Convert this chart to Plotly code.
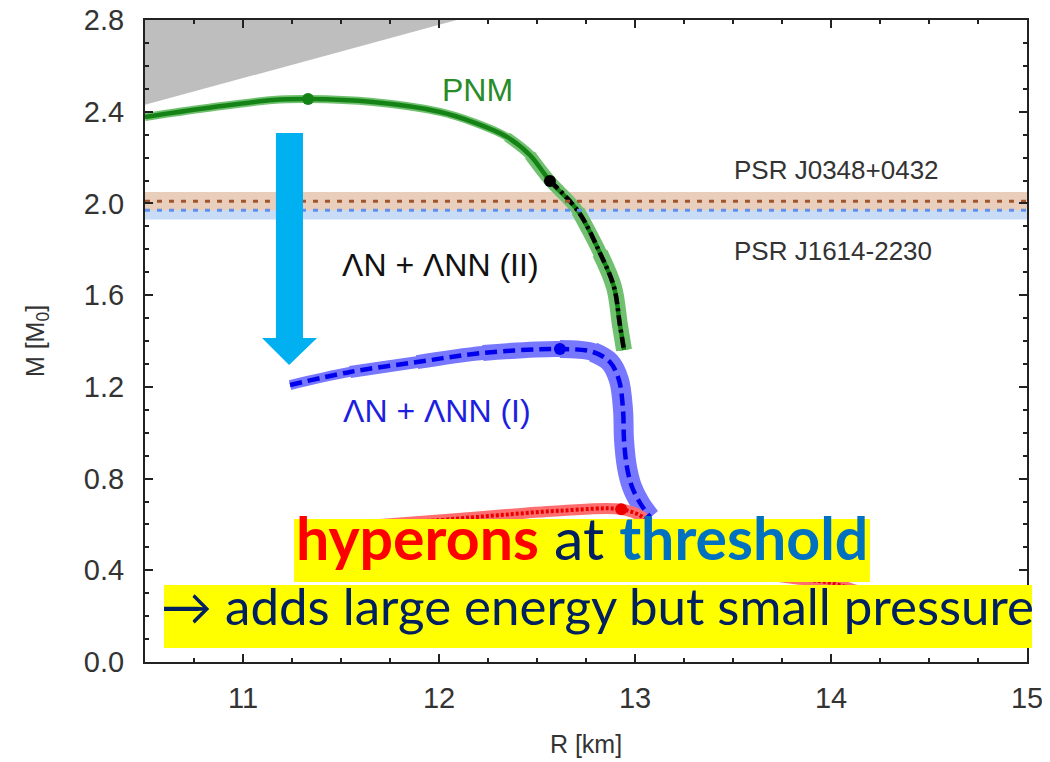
import plotly.graph_objects as go

# ---------------- data ----------------
pnm_R = [10.5, 10.816, 11.153, 11.332, 11.663, 12.005, 12.173, 12.347, 12.464, 12.566,
         12.709, 12.821, 12.893, 12.923, 12.944]
pnm_M = [2.377, 2.416, 2.451, 2.455, 2.442, 2.399, 2.355, 2.290, 2.211, 2.098,
         1.967, 1.784, 1.635, 1.470, 1.361]

lam2_R = [12.566, 12.709, 12.821, 12.893, 12.923, 12.944]
lam2_M = [2.098, 1.967, 1.784, 1.635, 1.470, 1.361]

lam1_R = [11.240, 11.546, 11.888, 12.224, 12.617, 12.786, 12.872, 12.918, 12.939,
          12.944, 12.959, 12.985, 13.026, 13.077]
lam1_M = [1.208, 1.265, 1.308, 1.348, 1.365, 1.352, 1.308, 1.230, 1.099,
          0.968, 0.850, 0.763, 0.693, 0.632]

lamN_R = [11.40, 12.00, 12.30, 12.62, 12.93, 13.04, 13.10, 13.25, 13.50, 13.80, 14.00, 14.20]
lamN_M = [0.580, 0.619, 0.640, 0.660, 0.666, 0.632, 0.580, 0.490, 0.410, 0.365, 0.345, 0.290]

max_R = {"pnm": 11.332, "lam2": 12.566, "lam1": 12.617, "lamN": 12.93}
max_M = {"pnm": 2.455, "lam2": 2.098, "lam1": 1.365, "lamN": 0.666}

psr_names = ["PSR J0348+0432", "PSR J1614-2230"]
psr_mass = [2.01, 1.97]
psr_err = [0.04, 0.04]

causal_R = [10.5, 12.09, 10.5]
causal_M = [2.8, 2.8, 2.43]

arrow_R = [11.168, 11.306, 11.306, 11.378, 11.235, 11.097, 11.168]
arrow_M = [2.307, 2.307, 1.413, 1.413, 1.295, 1.413, 1.413]

x_ticks = [11, 12, 13, 14, 15]
y_ticks = [0.0, 0.4, 0.8, 1.2, 1.6, 2.0, 2.4, 2.8]


def sub(xs, ys, lo):
    pts = [(a, b) for a, b in zip(xs, ys) if a >= lo]
    return [p[0] for p in pts], [p[1] for p in pts]


fig = go.Figure()

GREEN_BAND = "rgb(112,192,112)"
BLUE_BAND = "rgb(120,120,255)"

# uncertainty bands drawn as progressively wider light strokes
for lo, w in [(10.0, 8), (12.2, 10), (12.4, 12), (12.6, 14), (12.75, 16)]:
    gx, gy = sub(pnm_R, pnm_M, lo)
    fig.add_trace(go.Scatter(x=gx, y=gy, mode="lines",
                             line=dict(color=GREEN_BAND, width=w, shape="spline"), hoverinfo="skip"))

for lo, w in [(11.0, 10), (11.5, 12), (11.85, 14), (12.2, 16), (12.6, 18), (12.78, 20)]:
    bx, by = sub(lam1_R, lam1_M, lo)
    fig.add_trace(go.Scatter(x=bx, y=by, mode="lines",
                             line=dict(color=BLUE_BAND, width=w, shape="spline"), hoverinfo="skip"))

fig.add_trace(go.Scatter(x=lamN_R, y=lamN_M, mode="lines",
                         line=dict(color="rgb(255,110,110)", width=11, shape="spline"), hoverinfo="skip"))

# central lines
fig.add_trace(go.Scatter(x=pnm_R, y=pnm_M, mode="lines",
                         line=dict(color="rgb(20,130,20)", width=4.5, shape="spline"), hoverinfo="skip"))
fig.add_trace(go.Scatter(x=lam2_R, y=lam2_M, mode="lines",
                         line=dict(color="black", width=4.5, dash="11px,4px,3px,4px", shape="spline"), hoverinfo="skip"))
fig.add_trace(go.Scatter(x=lam1_R, y=lam1_M, mode="lines",
                         line=dict(color="rgb(0,0,235)", width=4.5, dash="12px,6px", shape="spline"), hoverinfo="skip"))
fig.add_trace(go.Scatter(x=lamN_R, y=lamN_M, mode="lines",
                         line=dict(color="rgb(235,0,0)", width=4, dash="3px,2px", shape="spline"), hoverinfo="skip"))

# maximum-mass dots
dot_cols = {"pnm": "rgb(20,130,20)", "lam2": "black", "lam1": "rgb(0,0,235)", "lamN": "rgb(235,0,0)"}
for k in ["pnm", "lam2", "lam1", "lamN"]:
    fig.add_trace(go.Scatter(x=[max_R[k]], y=[max_M[k]], mode="markers",
                             marker=dict(color=dot_cols[k], size=12), hoverinfo="skip"))

# PSR dotted lines
psr_line_cols = ["rgb(160,85,45)", "rgb(95,145,235)"]
for m, c in zip(psr_mass, psr_line_cols):
    fig.add_trace(go.Scatter(x=[10.5, 15], y=[m, m], mode="lines",
                             line=dict(color=c, width=3, dash="5px,7px"), hoverinfo="skip"))

shapes = []
# causality region
shapes.append(dict(type="path", xref="x", yref="y", layer="below",
                   path="M " + " L ".join(f"{r},{m}" for r, m in zip(causal_R, causal_M)) + " Z",
                   fillcolor="rgb(190,190,190)", line=dict(width=0)))
# PSR bands (J1614 below, J0348 above)
band_cols = ["rgb(234,206,188)", "rgb(200,220,248)"]
for i in [1, 0]:
    shapes.append(dict(type="rect", xref="paper", yref="y", layer="below",
                       x0=0, x1=1, y0=psr_mass[i] - psr_err[i], y1=psr_mass[i] + psr_err[i],
                       fillcolor=band_cols[i], line=dict(width=0)))
# blue arrow
shapes.append(dict(type="path", xref="x", yref="y", layer="above",
                   path="M " + " L ".join(f"{r},{m}" for r, m in zip(arrow_R, arrow_M)) + " Z",
                   fillcolor="rgb(0,176,240)", line=dict(width=0)))
# yellow boxes
shapes.append(dict(type="rect", xref="paper", yref="paper", layer="above",
                   x0=0.169, x1=0.822, y0=0.1246, y1=0.2227,
                   fillcolor="rgb(255,255,0)", line=dict(width=0)))
shapes.append(dict(type="rect", xref="paper", yref="paper", layer="above",
                   x0=0.0215, x1=1.0057, y0=0.0218, y1=0.1200,
                   fillcolor="rgb(255,255,0)", line=dict(width=0)))

ann = []
ann.append(dict(x=12.194, y=2.495, xref="x", yref="y", text="PNM", showarrow=False,
                font=dict(family="Liberation Sans", size=32, color="rgb(40,140,40)")))
ann.append(dict(x=12.01, y=1.731, xref="x", yref="y", text="ΛN + ΛNN (II)", showarrow=False,
                font=dict(family="Liberation Sans", size=32, color="#111")))
ann.append(dict(x=11.99, y=1.095, xref="x", yref="y", text="ΛN + ΛNN (I)", showarrow=False,
                font=dict(family="Liberation Sans", size=32, color="rgb(30,30,225)")))
ann.append(dict(x=14.026, y=2.146, xref="x", yref="y", text=psr_names[0], showarrow=False,
                font=dict(family="Liberation Sans", size=26, color="#333")))
ann.append(dict(x=14.01, y=1.793, xref="x", yref="y", text=psr_names[1], showarrow=False,
                font=dict(family="Liberation Sans", size=26, color="#333")))
ann.append(dict(x=0.4955, y=0.1355, xref="paper", yref="paper", showarrow=False,
                text="<b><span style='color:rgb(255,0,0)'>hyperons</span></b> "
                     "<span style='color:rgb(0,32,96)'>at</span> "
                     "<b><span style='color:rgb(0,112,192)'>threshold</span></b>",
                font=dict(family="Lato", size=59)))
ann.append(dict(x=0.5136, y=0.037, xref="paper", yref="paper", showarrow=False,
                text="→ adds large energy but small pressure",
                font=dict(family="Lato", size=51, color="rgb(0,32,96)")))

axis_common = dict(showline=True, linecolor="#222", linewidth=2, mirror="ticks",
                   ticks="inside", ticklen=8, tickwidth=1.5, tickcolor="#222",
                   showgrid=False, zeroline=False, automargin=False,
                   ticklabeloverflow="allow",
                   tickfont=dict(family="Liberation Sans", size=29, color="#333"))

# the page body has an 8px margin, so the plot area is placed 8px up/left
fig.update_layout(
    width=1050, height=762,
    margin=dict(l=137, r=31, t=12, b=108),
    paper_bgcolor="white", plot_bgcolor="white",
    showlegend=False,
    shapes=shapes, annotations=ann,
    xaxis=dict(range=[10.5, 15], tickvals=x_ticks, ticktext=[str(t) for t in x_ticks],
               minor=dict(dtick=0.25, tick0=10.5, ticks="inside", ticklen=4, tickcolor="#222"),
               ticklabelstandoff=9,
               title=dict(text="R [km]", font=dict(family="Liberation Sans", size=25, color="#333"), standoff=23),
               **axis_common),
    yaxis=dict(range=[0, 2.8], tickvals=y_ticks, ticktext=[f"{t:.1f}" for t in y_ticks],
               minor=dict(dtick=0.1, tick0=0, ticks="inside", ticklen=4, tickcolor="#222"),
               ticklabelstandoff=13,
               title=dict(text="M [M<sub>0</sub>]", font=dict(family="Liberation Sans", size=25, color="#333"), standoff=32),
               **axis_common),
)

fig.write_html("out.html")
